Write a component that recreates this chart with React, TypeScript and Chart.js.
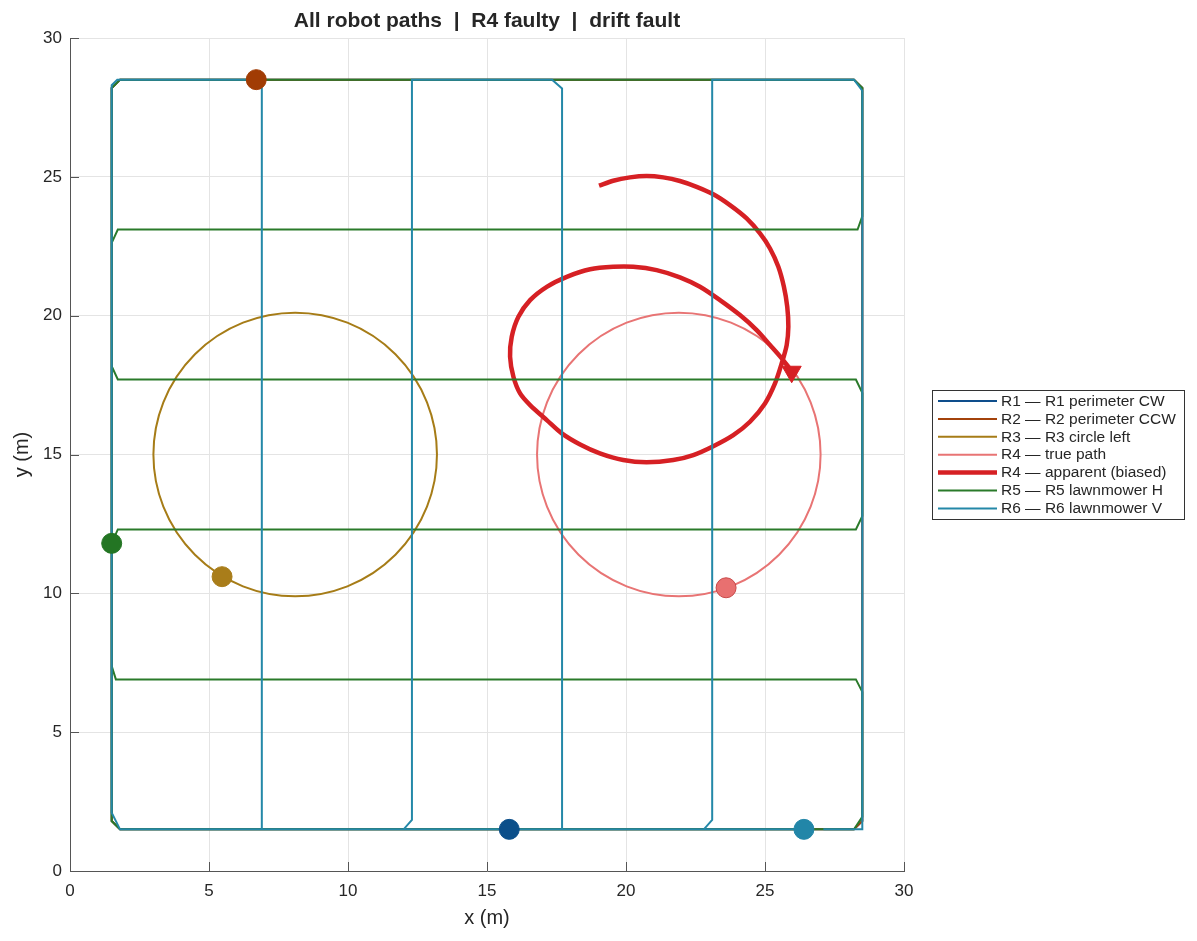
import React, { useEffect, useRef } from "react";
import { Chart, registerables } from "chart.js";

Chart.register(...registerables);

// ---------- data ----------
const TITLE = "All robot paths  |  R4 faulty  |  drift fault";
const X_LABEL = "x (m)";
const Y_LABEL = "y (m)";
const X_TICKS = [0, 5, 10, 15, 20, 25, 30];
const Y_TICKS = [0, 5, 10, 15, 20, 25, 30];

const LABELS = [
  "R1 \u2014 R1 perimeter CW",
  "R2 \u2014 R2 perimeter CCW",
  "R3 \u2014 R3 circle left",
  "R4 \u2014 true path",
  "R4 \u2014 apparent (biased)",
  "R5 \u2014 R5 lawnmower H",
  "R6 \u2014 R6 lawnmower V",
];
const COLORS = ["#0e4e8c", "#a3420b", "#a67c17", "#e87474", "#d62024", "#2a7a2a", "#2488a8"];

const R1_X = [15.8, 1.8, 1.5, 1.5, 1.8, 28.2, 28.5, 28.5, 28.2, 15.8];
const R1_Y = [1.5, 1.5, 1.8, 28.2, 28.5, 28.5, 28.2, 1.8, 1.5, 1.5];

const R2_X = [6.7, 1.8, 1.5, 1.5, 1.8, 28.2, 28.5, 28.5, 28.2, 6.7];
const R2_Y = [28.5, 28.5, 28.2, 1.8, 1.5, 1.5, 1.8, 28.2, 28.5, 28.5];

const R3_CENTER = [8.1, 15.0];
const R3_RADIUS = 5.1;
const R4_CENTER = [21.9, 15.0];
const R4_RADIUS = 5.1;

const R4A_X = [19.03, 19.54, 20.14, 20.74, 21.34, 21.94, 22.54, 23.14, 23.74, 24.34, 24.82, 25.18, 25.48, 25.68, 25.8, 25.84, 25.78, 25.6, 25.36, 25.0, 24.46, 23.86, 23.14, 22.42, 21.7, 20.74, 19.9, 19.06, 18.35, 17.69, 17.15, 16.55, 16.19, 15.95, 15.83, 15.89, 16.13, 16.55, 17.15, 17.87, 18.71, 19.54, 20.26, 21.1, 21.94, 22.66, 23.38, 24.1, 24.7, 25.18, 25.6, 25.96];
const R4A_Y = [24.68, 24.86, 24.98, 25.03, 24.98, 24.85, 24.64, 24.37, 23.98, 23.5, 22.96, 22.42, 21.76, 21.04, 20.32, 19.6, 18.94, 18.28, 17.56, 16.84, 16.18, 15.7, 15.3, 14.98, 14.8, 14.72, 14.8, 15.04, 15.36, 15.76, 16.24, 16.78, 17.2, 17.8, 18.52, 19.24, 19.96, 20.56, 21.04, 21.4, 21.67, 21.76, 21.76, 21.64, 21.38, 21.04, 20.56, 20.02, 19.48, 18.94, 18.46, 17.98];

const R5_X = [1.5, 1.72, 28.27, 28.5, 28.5, 28.27, 1.72, 1.5, 1.5, 1.72, 28.33, 28.5, 28.5, 28.2, 1.8, 1.5, 1.5, 1.8, 28.2, 28.5, 28.5, 28.27, 1.65, 1.5, 1.5];
const R5_Y = [11.8, 12.3, 12.3, 12.78, 17.22, 17.7, 17.7, 18.18, 22.62, 23.1, 23.1, 23.58, 28.2, 28.5, 28.5, 28.2, 1.8, 1.5, 1.5, 1.95, 6.45, 6.9, 6.9, 7.38, 11.8];

const R6_X = [26.4, 1.8, 1.5, 1.5, 1.7, 6.55, 6.9, 6.9, 12.0, 12.3, 12.3, 17.34, 17.7, 17.7, 22.8, 23.1, 23.1, 28.2, 28.5, 28.5, 27.1];
const R6_Y = [1.5, 1.5, 2.1, 28.3, 28.5, 28.5, 28.18, 1.5, 1.5, 1.84, 28.5, 28.5, 28.18, 1.5, 1.5, 1.84, 28.5, 28.5, 28.1, 1.5, 1.5];

const MARKER_X = [15.8, 6.7, 5.47, 23.6, 1.5, 26.4];
const MARKER_Y = [1.5, 28.5, 10.6, 10.2, 11.8, 1.5];
const MARKER_COLORS = ["#0c4f8a", "#a13c04", "#a97d1a", "#e87070", "#237523", "#2286a8"];
const MARKER_BORDERS = ["#0c4f8a", "#a13c04", "#a97d1a", "#c84848", "#237523", "#2286a8"];

const ARROW_X = [25.96];
const ARROW_Y = [17.98];

const FONT = "'Liberation Sans', Arial, sans-serif";
const TEXT = "#262626";

const pts = (xs: number[], ys: number[]) => xs.map((x, i) => ({ x, y: ys[i] }));

const lineDs = (idx: number, xs: number[], ys: number[], width: number, order: number, tension = 0) => ({
  type: "scatter" as const,
  label: LABELS[idx],
  data: pts(xs, ys),
  showLine: true,
  borderColor: COLORS[idx],
  backgroundColor: COLORS[idx],
  borderWidth: width,
  pointRadius: 0,
  tension,
  order,
  legendWidth: width,
});

const circleDs = (idx: number, c: number[], r: number, order: number) => ({
  type: "scatter" as const,
  label: LABELS[idx],
  data: [{ x: c[0], y: c[1] }],
  showLine: false,
  pointBorderColor: COLORS[idx],
  pointBackgroundColor: "rgba(0,0,0,0)",
  pointBorderWidth: 2,
  pointRadius: (ctx: any) => {
    const s = ctx.chart.scales.x;
    const v = Math.abs(s.getPixelForValue(r) - s.getPixelForValue(0));
    return isFinite(v) ? v : 0;
  },
  clip: false,
  order,
  borderColor: COLORS[idx],
  legendWidth: 2,
});

const overlayPlugin = {
  id: "overlay",
  afterDraw(chart: any) {
    const ctx = chart.ctx;
    const { left, right, top, bottom } = chart.chartArea;
    const xs = chart.scales.x;
    const ys = chart.scales.y;
    ctx.save();
    // inward ticks
    ctx.strokeStyle = "#555";
    ctx.lineWidth = 1;
    ctx.beginPath();
    X_TICKS.forEach((v) => {
      const px = Math.round(xs.getPixelForValue(v)) + 0.5;
      ctx.moveTo(px, bottom);
      ctx.lineTo(px, bottom - 9);
    });
    Y_TICKS.forEach((v) => {
      const py = Math.round(ys.getPixelForValue(v)) + 0.5;
      ctx.moveTo(left, py);
      ctx.lineTo(left + 9, py);
    });
    ctx.stroke();

    // title
    ctx.fillStyle = TEXT;
    ctx.textAlign = "center";
    ctx.textBaseline = "middle";
    ctx.font = `bold 21px ${FONT}`;
    ctx.fillText(TITLE, (left + right) / 2, 21);
    // axis titles
    ctx.font = `20px ${FONT}`;
    ctx.fillText(X_LABEL, (left + right) / 2, 918);
    ctx.save();
    ctx.translate(22, (top + bottom) / 2);
    ctx.rotate(-Math.PI / 2);
    ctx.fillText(Y_LABEL, 0, 0);
    ctx.restore();

    // legend
    const lx = 932.5, ly = 390.5, lw = 252, lh = 129;
    ctx.fillStyle = "#fff";
    ctx.fillRect(lx, ly, lw, lh);
    ctx.strokeStyle = "#333";
    ctx.lineWidth = 1;
    ctx.strokeRect(lx, ly, lw, lh);
    const legendSets = chart.data.datasets.filter((d: any) => d.legendIndex !== undefined)
      .sort((a: any, b: any) => a.legendIndex - b.legendIndex);
    ctx.font = `15.5px ${FONT}`;
    ctx.textAlign = "left";
    legendSets.forEach((d: any, i: number) => {
      const cy = 401 + i * 17.9;
      ctx.strokeStyle = d.borderColor;
      ctx.lineWidth = d.legendWidth;
      ctx.beginPath();
      ctx.moveTo(938, cy);
      ctx.lineTo(997, cy);
      ctx.stroke();
      ctx.fillStyle = TEXT;
      ctx.fillText(d.label, 1001, cy + 0.5);
    });
    ctx.restore();
  },
};

export default function App() {
  const ref = useRef<HTMLCanvasElement | null>(null);
  useEffect(() => {
    document.body.style.margin = "0";
    const canvas = ref.current!;
    const datasets: any[] = [
      { ...lineDs(0, R1_X, R1_Y, 2, 8), legendIndex: 0 },
      { ...lineDs(1, R2_X, R2_Y, 2, 7), legendIndex: 1 },
      { ...circleDs(2, R3_CENTER, R3_RADIUS, 6), legendIndex: 2 },
      { ...circleDs(3, R4_CENTER, R4_RADIUS, 5), legendIndex: 3 },
      { ...lineDs(4, R4A_X, R4A_Y, 4.5, 4, 0.3), legendIndex: 4 },
      { ...lineDs(5, R5_X, R5_Y, 2, 3), legendIndex: 5 },
      { ...lineDs(6, R6_X, R6_Y, 2, 2), legendIndex: 6 },
      {
        type: "scatter",
        label: "markers",
        data: pts(MARKER_X, MARKER_Y),
        pointRadius: 10,
        pointBackgroundColor: MARKER_COLORS,
        pointBorderColor: MARKER_BORDERS,
        pointBorderWidth: 1,
        showLine: false,
        order: 1,
      },
      {
        type: "scatter",
        label: "arrow",
        data: pts(ARROW_X, ARROW_Y),
        pointStyle: "triangle",
        rotation: 180,
        pointRadius: 11,
        pointBackgroundColor: COLORS[4],
        pointBorderColor: COLORS[4],
        pointBorderWidth: 1,
        showLine: false,
        order: 0,
      },
    ];
    const chart = new Chart(canvas, {
      type: "scatter",
      data: { datasets },
      plugins: [overlayPlugin],
      options: {
        animation: false,
        responsive: false,
        events: [],
        layout: { padding: { left: 0, right: 293, top: 38, bottom: 0 } },
        plugins: { legend: { display: false }, tooltip: { enabled: false }, title: { display: false } },
        scales: {
          x: {
            type: "linear",
            min: 0,
            max: 30,
            afterFit: (s: any) => { s.height = 70; },
            afterBuildTicks: (s: any) => { s.ticks = X_TICKS.map((v) => ({ value: v })); },
            grid: { color: "#e4e4e4", lineWidth: 1, drawTicks: false },
            border: { display: true, color: "#555", width: 1 },
            ticks: { color: TEXT, font: { family: FONT, size: 17 }, padding: 10, maxRotation: 0 },
          },
          y: {
            type: "linear",
            min: 0,
            max: 30,
            afterFit: (s: any) => { s.width = 70; },
            afterBuildTicks: (s: any) => { s.ticks = Y_TICKS.map((v) => ({ value: v })); },
            grid: { color: "#e4e4e4", lineWidth: 1, drawTicks: false },
            border: { display: true, color: "#555", width: 1 },
            ticks: { color: TEXT, font: { family: FONT, size: 17 }, padding: 8 },
          },
        },
      } as any,
    });
    return () => chart.destroy();
  }, []);
  return (
    <canvas ref={ref} width={1197} height={941} style={{ display: "block", width: 1197, height: 941 }} />
  );
}
